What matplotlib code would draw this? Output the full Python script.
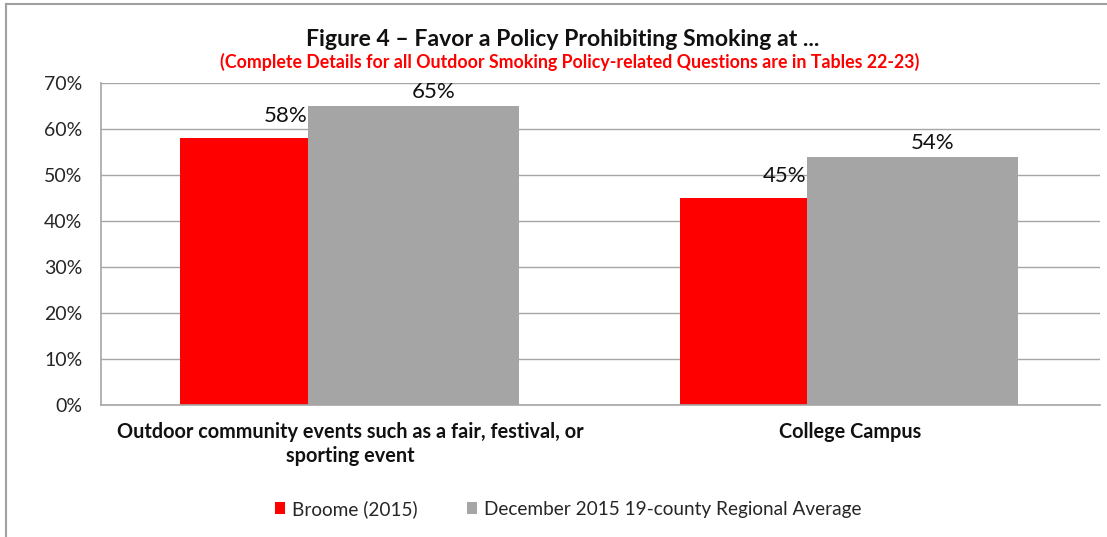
import matplotlib
matplotlib.use("Agg")
import matplotlib.pyplot as plt
from matplotlib.lines import Line2D
import numpy as np

categories = ["Outdoor community events such as a fair, festival, or\nsporting event", "College Campus"]
series_names = ["Broome (2015)", "December 2015 19-county Regional Average"]
broome = [58, 45]
regional = [65, 54]
yticks = [0, 10, 20, 30, 40, 50, 60, 70]

RED = "#FF0000"
GRAY = "#A5A5A5"
GRID = "#A6A6A6"
FONT = "Lato"

W, H = 1107, 537
fig = plt.figure(figsize=(W / 100, H / 100), dpi=100)
plt.rcParams['font.family'] = [FONT, 'DejaVu Sans']

def fx(px):
    return px / W

def fy(py):
    return 1 - py / H

ax = fig.add_axes([fx(101), fy(405), fx(1100) - fx(101), fy(83) - fy(405)])

x = np.arange(len(categories))
width = 0.4224
off_r, off_g = -0.1305, 0.1256
ax.bar(x + off_r, broome, width, color=RED, zorder=2, label=series_names[0])
ax.bar(x + off_g, regional, width, color=GRAY, zorder=3, label=series_names[1])

ax.set_xlim(-0.5, 1.5)
ax.set_ylim(0, 70)
ax.set_yticks(yticks)
ax.set_yticklabels([f"{v}%" for v in yticks], fontsize=14, color="#262626")
ax.set_xticks(x)
ax.set_xticklabels(categories, fontsize=14.3, fontweight="bold", color="#111111", linespacing=1.25)
ax.tick_params(axis="both", length=0)
ax.tick_params(axis="y", pad=13.5)
ax.tick_params(axis="x", pad=12)
ax.grid(axis="y", color=GRID, linewidth=1, zorder=0)
for s in ["top", "right"]:
    ax.spines[s].set_visible(False)
for s in ["left", "bottom"]:
    ax.spines[s].set_color(GRID)
    ax.spines[s].set_linewidth(1.2)
ax.spines["bottom"].set_zorder(4)

# data labels
for i in range(len(categories)):
    ax.annotate(f"{broome[i]}%", (x[i] + off_r, broome[i]), xytext=(0, 12),
                textcoords="offset pixels", ha="center", va="bottom", fontsize=16, color="#111111")
    ax.annotate(f"{regional[i]}%", (x[i] + 0.165, regional[i]), xytext=(0, 4),
                textcoords="offset pixels", ha="center", va="bottom", fontsize=16, color="#111111")

fig.text(fx(563), fy(39), "Figure 4 \u2013 Favor a Policy Prohibiting Smoking at ...", ha="center", va="center",
         fontsize=16.6, fontweight="bold", color="#111111")
fig.text(fx(570), fy(62), "(Complete Details for all Outdoor Smoking Policy-related Questions are in Tables 22-23)",
         ha="center", va="center", fontsize=12.8, fontweight="bold", color=RED)

leg = fig.legend(loc="center", bbox_to_anchor=(fx(568), fy(509)), ncol=2, frameon=False,
                 fontsize=13.7, handlelength=0.55, handleheight=0.55, columnspacing=2.6, handletextpad=0.35)
for t in leg.get_texts():
    t.set_color("#262626")

# chart border
fig.add_artist(Line2D([fx(6), fx(6)], [fy(4), 0], color="#A0A0A0", linewidth=1.5))
fig.add_artist(Line2D([fx(6), 1], [fy(4), fy(4)], color="#A0A0A0", linewidth=1.5))

fig.savefig("out.png", dpi=100)
